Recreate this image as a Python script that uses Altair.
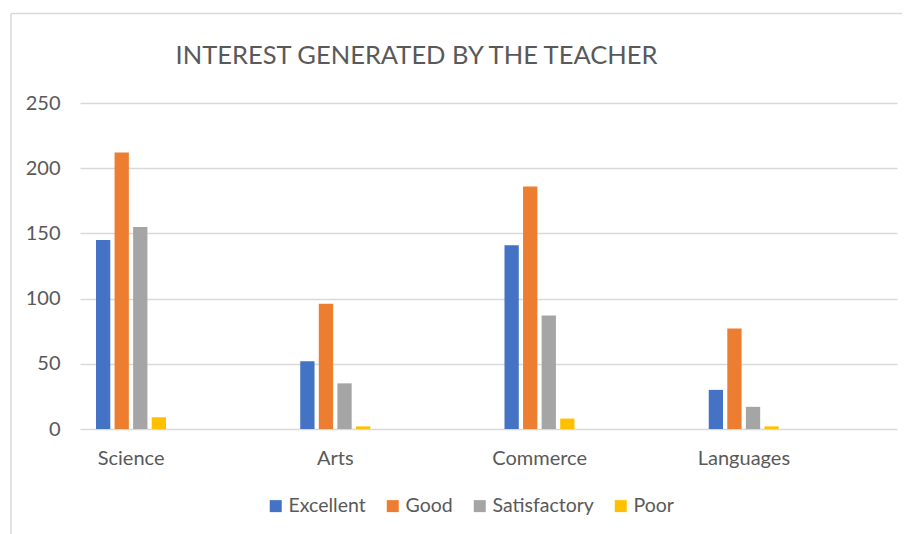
import altair as alt
import pandas as pd

title_text = "INTEREST GENERATED BY THE TEACHER"
categories = ["Science", "Arts", "Commerce", "Languages"]
series = ["Excellent", "Good", "Satisfactory", "Poor"]
excellent = [145, 52, 141, 30]
good = [212, 96, 186, 77]
satisfactory = [155, 35, 87, 17]
poor = [9, 2, 8, 2]
colors = ["#4472C4", "#ED7D31", "#A5A5A5", "#FFC000"]
y_ticks = [0, 50, 100, 150, 200, 250]
# empty slots that keep the bar cluster at the left of each category band
empty_slots = ["_e1", "_e2", "_e3", "_e4", "_e5", "_e6"]

rows = []
for s, vals in zip(series, [excellent, good, satisfactory, poor]):
    for c, v in zip(categories, vals):
        rows.append({"Stream": c, "Rating": s, "Count": v})
df = pd.DataFrame(rows)

text_color = "#595959"
font = "Lato"

bars = alt.Chart(df).mark_bar().encode(
    x=alt.X(
        "Stream:N",
        sort=categories,
        scale=alt.Scale(paddingInner=0, paddingOuter=0),
        axis=alt.Axis(
            title=None, labelAngle=0, domain=False, ticks=False,
            labelOffset=-51, labelPadding=19, labelFontSize=20,
            labelColor=text_color, labelFont=font,
        ),
    ),
    xOffset=alt.XOffset(
        "Rating:N",
        scale=alt.Scale(domain=series + empty_slots, paddingInner=0.23,
                        paddingOuter=0.615, align=0.7),
    ),
    y=alt.Y(
        "Count:Q",
        scale=alt.Scale(domain=[0, 250]),
        axis=alt.Axis(
            values=y_ticks, title=None, domain=False, ticks=False,
            gridColor="#D9D9D9", gridWidth=1.3, labelPadding=20,
            labelFontSize=20, labelColor=text_color, labelFont=font,
        ),
    ),
    color=alt.Color(
        "Rating:N",
        sort=series,
        scale=alt.Scale(domain=series, range=colors),
        legend=alt.Legend(
            title=None, orient="none", direction="horizontal",
            legendX=186, legendY=393, symbolType="square", symbolSize=144,
            symbolStrokeWidth=0, labelFontSize=19.5, labelColor=text_color,
            labelFont=font, labelOffset=3, columnPadding=17, padding=0,
        ),
    ),
)

one_row = pd.DataFrame({"k": [0]})

# chart title, centred over the chart area as in the reference
title = alt.Chart(one_row).mark_text(
    fontSize=25.5, font=font, color=text_color, align="center", baseline="alphabetic"
).encode(x=alt.value(336.5), y=alt.value(-39), text=alt.value(title_text))

# light chart-area frame (top and left edges visible in the reference)
frame_top = alt.Chart(one_row).mark_rule(color="#D9D9D9", strokeWidth=1.5).encode(
    x=alt.value(-69), x2=alt.value(840), y=alt.value(-89.5)
)
frame_left = alt.Chart(one_row).mark_rule(color="#D9D9D9", strokeWidth=1.5).encode(
    x=alt.value(-69), y=alt.value(-89.5), y2=alt.value(460)
)

chart = alt.layer(bars, title, frame_top, frame_left).properties(
    width=817,
    height=326,
    padding={"left": 72, "top": 95, "right": 5, "bottom": 110},
    autosize="none",
).configure_view(stroke=None)

chart.save("out.html", embed_options={"renderer": "svg", "actions": False})
